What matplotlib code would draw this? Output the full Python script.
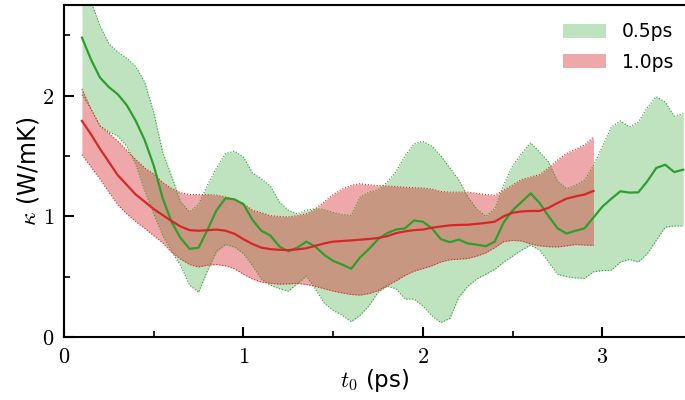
import numpy as np
import matplotlib
matplotlib.use("Agg")
import matplotlib.pyplot as plt
from matplotlib.patches import Patch
from matplotlib.ticker import MultipleLocator

plt.rcParams['mathtext.fontset'] = 'cm'
plt.rcParams['font.family'] = 'DejaVu Sans'

# window 0.5 ps
t_05 = np.round(np.arange(0.10, 3.451, 0.05), 2)
k_05 = [2.48, 2.30, 2.15, 2.07, 2.01, 1.92, 1.79, 1.63, 1.42, 1.15,
        0.95, 0.82, 0.73, 0.74, 0.89, 1.05, 1.15, 1.14, 1.10, 0.97,
        0.88, 0.84, 0.75, 0.71, 0.74, 0.79, 0.75, 0.68, 0.63, 0.60,
        0.565, 0.66, 0.73, 0.81, 0.86, 0.89, 0.90, 0.965, 0.955, 0.90,
        0.81, 0.785, 0.807, 0.775, 0.765, 0.752, 0.79, 0.95, 1.05, 1.12,
        1.19, 1.11, 1.00, 0.90, 0.857, 0.88, 0.90, 0.99, 1.08, 1.146,
        1.207, 1.196, 1.198, 1.29, 1.40, 1.427, 1.366, 1.386]
hi_05 = [2.95, 2.78, 2.58, 2.43, 2.36, 2.31, 2.24, 2.11, 1.86, 1.53,
         1.33, 1.12, 1.035, 1.10, 1.26, 1.40, 1.52, 1.54, 1.49, 1.36,
         1.31, 1.25, 1.12, 1.05, 1.02, 1.05, 1.063, 1.055, 1.03, 1.015,
         1.008, 1.16, 1.20, 1.22, 1.28, 1.37, 1.50, 1.60, 1.62, 1.58,
         1.50, 1.40, 1.30, 1.16, 1.06, 1.00, 1.064, 1.26, 1.42, 1.52,
         1.61, 1.53, 1.45, 1.29, 1.23, 1.256, 1.30, 1.42, 1.58, 1.74,
         1.79, 1.74, 1.78, 1.90, 1.99, 1.945, 1.83, 1.85]
lo_05 = [2.005, 1.89, 1.75, 1.70, 1.665, 1.58, 1.43, 1.21, 1.02, 0.84,
         0.71, 0.59, 0.43, 0.37, 0.55, 0.71, 0.766, 0.745, 0.69, 0.59,
         0.48, 0.43, 0.40, 0.38, 0.44, 0.505, 0.40, 0.28, 0.22, 0.18,
         0.127, 0.18, 0.26, 0.37, 0.42, 0.40, 0.314, 0.314, 0.256, 0.175,
         0.118, 0.155, 0.33, 0.42, 0.48, 0.52, 0.56, 0.62, 0.67, 0.72,
         0.76, 0.72, 0.62, 0.52, 0.50, 0.49, 0.485, 0.54, 0.55, 0.554,
         0.62, 0.642, 0.62, 0.69, 0.80, 0.91, 0.92, 0.92]

# window 1.0 ps
t_10 = np.round(np.arange(0.10, 2.951, 0.05), 2)
k_10 = [1.79, 1.68, 1.56, 1.45, 1.34, 1.26, 1.18, 1.12, 1.06, 1.01,
        0.96, 0.915, 0.885, 0.88, 0.885, 0.89, 0.88, 0.855, 0.81, 0.77,
        0.74, 0.728, 0.722, 0.72, 0.726, 0.735, 0.755, 0.775, 0.79, 0.795,
        0.80, 0.806, 0.812, 0.82, 0.835, 0.86, 0.875, 0.885, 0.89, 0.905,
        0.915, 0.925, 0.928, 0.93, 0.937, 0.945, 0.955, 1.0, 1.03, 1.04,
        1.044, 1.044, 1.07, 1.11, 1.146, 1.165, 1.18, 1.21]
hi_10 = [2.055, 1.89, 1.75, 1.69, 1.62, 1.545, 1.47, 1.40, 1.35, 1.28,
         1.23, 1.195, 1.18, 1.18, 1.18, 1.175, 1.16, 1.14, 1.105, 1.05,
         1.03, 1.005, 0.998, 0.995, 1.005, 1.02, 1.06, 1.12, 1.18, 1.225,
         1.255, 1.27, 1.26, 1.254, 1.25, 1.246, 1.24, 1.237, 1.234, 1.225,
         1.205, 1.20, 1.20, 1.20, 1.19, 1.18, 1.174, 1.215, 1.26, 1.305,
         1.325, 1.345, 1.40, 1.465, 1.52, 1.555, 1.59, 1.655]
lo_10 = [1.51, 1.41, 1.31, 1.20, 1.095, 1.02, 0.955, 0.90, 0.84, 0.78,
         0.70, 0.645, 0.60, 0.58, 0.595, 0.60, 0.59, 0.565, 0.52, 0.48,
         0.455, 0.445, 0.438, 0.44, 0.444, 0.435, 0.42, 0.40, 0.38, 0.365,
         0.352, 0.347, 0.36, 0.385, 0.425, 0.465, 0.51, 0.545, 0.567, 0.59,
         0.622, 0.64, 0.645, 0.65, 0.67, 0.697, 0.74, 0.79, 0.80, 0.795,
         0.77, 0.755, 0.748, 0.746, 0.755, 0.766, 0.762, 0.758]

green = '#2ca02c'
red = '#d62728'

fig = plt.figure(figsize=(6.85, 4.0), dpi=100)
ax = fig.add_axes([0.0934, 0.1575, 0.9066, 0.83])

ax.fill_between(t_05, lo_05, hi_05, color=green, alpha=0.3, lw=0)
ax.plot(t_05, hi_05, ':', color=green, lw=0.8)
ax.plot(t_05, lo_05, ':', color=green, lw=0.8)
ax.fill_between(t_10, lo_10, hi_10, color=red, alpha=0.4, lw=0)
ax.plot(t_10, hi_10, ':', color=red, lw=0.8)
ax.plot(t_10, lo_10, ':', color=red, lw=0.8)
ax.plot(t_05, k_05, color=green, lw=1.6)
ax.plot(t_10, k_10, color=red, lw=1.6)

ax.set_xlim(0, 3.46)
ax.set_ylim(0, 2.75)
ax.xaxis.set_major_locator(MultipleLocator(1))
ax.xaxis.set_minor_locator(MultipleLocator(0.5))
ax.yaxis.set_major_locator(MultipleLocator(1))
ax.yaxis.set_minor_locator(MultipleLocator(0.5))
ax.set_xticks([0, 1, 2, 3])
ax.set_xticklabels(['$0$', '$1$', '$2$', '$3$'])
ax.set_yticks([0, 1, 2])
ax.set_yticklabels(['$0$', '$1$', '$2$'])
ax.tick_params(which='major', direction='in', length=7, width=1.5, labelsize=16, pad=7)
ax.tick_params(which='minor', direction='in', length=4, width=1.2)
for s in ['left', 'bottom', 'top']:
    ax.spines[s].set_linewidth(1.5)
ax.spines['right'].set_visible(False)

ax.set_xlabel(r'$t_0$ (ps)', fontsize=16.5, labelpad=0)
ax.set_ylabel(r'$\kappa$ (W/mK)', fontsize=17, labelpad=1)

handles = [Patch(facecolor=green, alpha=0.3, edgecolor='none'),
           Patch(facecolor=red, alpha=0.4, edgecolor='none')]
ax.legend(handles, ['0.5ps', '1.0ps'], loc='upper right', frameon=False,
          fontsize=13.5, handlelength=2.3, handleheight=0.8, labelspacing=0.6,
          handletextpad=0.85, borderaxespad=0, bbox_to_anchor=(0.993, 0.97))

fig.savefig('out.png', dpi=100)
